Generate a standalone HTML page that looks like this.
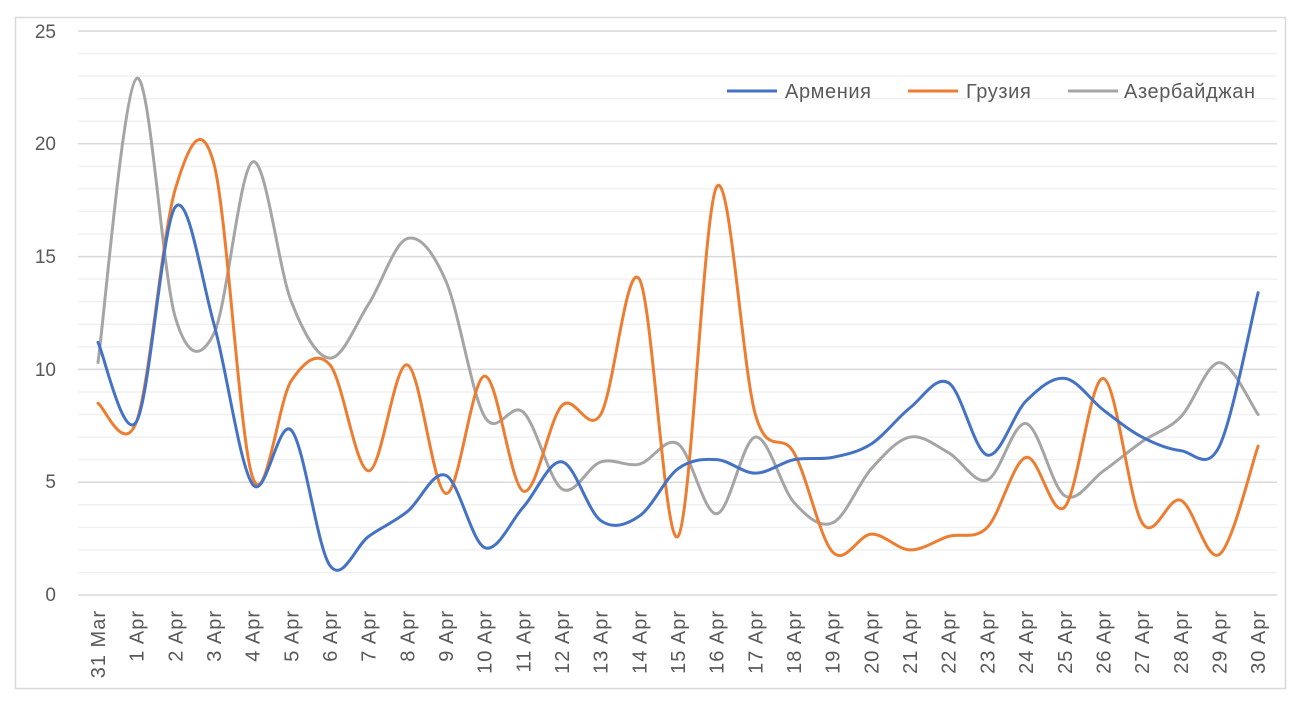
<!DOCTYPE html>
<html><head><meta charset="utf-8"><style>
body{margin:0;background:#fff;width:1298px;height:702px;overflow:hidden}
svg{display:block;font-family:"Liberation Sans","DejaVu Sans",sans-serif}
</style></head><body>
<svg id="s" width="1298" height="702" xmlns="http://www.w3.org/2000/svg">
<rect x="15.5" y="17.5" width="1270" height="671" fill="#fff" stroke="#d9d9d9" stroke-width="1.5"/>
<g id="grid"></g>
<g font-size="19" fill="#595959" text-anchor="end">
<text x="56" y="601">0</text><text x="56" y="488">5</text><text x="56" y="376">10</text>
<text x="56" y="263">15</text><text x="56" y="150">20</text><text x="56" y="38">25</text>
</g>
<g id="xl" font-size="20" fill="#595959" text-anchor="end" letter-spacing="1">
<text>31 Mar</text><text>1 Apr</text><text>2 Apr</text><text>3 Apr</text><text>4 Apr</text><text>5 Apr</text><text>6 Apr</text><text>7 Apr</text><text>8 Apr</text><text>9 Apr</text><text>10 Apr</text><text>11 Apr</text><text>12 Apr</text><text>13 Apr</text><text>14 Apr</text><text>15 Apr</text><text>16 Apr</text><text>17 Apr</text><text>18 Apr</text><text>19 Apr</text><text>20 Apr</text><text>21 Apr</text><text>22 Apr</text><text>23 Apr</text><text>24 Apr</text><text>25 Apr</text><text>26 Apr</text><text>27 Apr</text><text>28 Apr</text><text>29 Apr</text><text>30 Apr</text>
</g>
<g id="lines" fill="none" stroke-width="3" stroke-linecap="round" stroke-linejoin="round"></g>
<g font-size="20" fill="#595959" letter-spacing="0.6">
<line x1="727" y1="91" x2="777" y2="91" stroke="#4472c4" stroke-width="3"/><text x="785" y="98">Армения</text>
<line x1="908" y1="91" x2="958" y2="91" stroke="#ed7d31" stroke-width="3"/><text x="966" y="98">Грузия</text>
<line x1="1068" y1="91" x2="1118" y2="91" stroke="#a5a5a5" stroke-width="3"/><text x="1124" y="98">Азербайджан</text>
</g>
</svg>
<script>
var g=document.getElementById('grid'),h='';
for(var v=0;v<=25;v++){var y=595-v*22.56;h+='<line x1="78" x2="1277" y1="'+y+'" y2="'+y+'" stroke="'+(v%5?'#f0f0f0':'#d9d9d9')+'" stroke-width="1.5"/>';}
g.innerHTML=h;
var X=function(i){return 98+i*38.67},Y=function(v){return 595-v*22.56};
var t=document.getElementById('xl').children;
for(var i=0;i<t.length;i++){var x=X(i)+7;t[i].setAttribute('transform','translate('+x+',610) rotate(-90)');}
var D=[["#a5a5a5",[10.3,22.9,12.3,11.6,19.2,13.0,10.5,12.9,15.8,13.9,7.9,8.1,4.7,5.9,5.8,6.7,3.6,7.0,4.1,3.2,5.6,7.0,6.3,5.1,7.6,4.4,5.5,6.8,7.9,10.3,8.0]],
["#ed7d31",[8.5,7.7,18.0,19.1,5.2,9.5,10.2,5.5,10.2,4.5,9.7,4.6,8.4,8.0,14.0,2.6,18.1,8.0,6.3,1.9,2.7,2.0,2.6,3.0,6.1,3.9,9.6,3.2,4.2,1.8,6.6]],
["#4472c4",[11.2,7.7,17.2,12,4.9,7.3,1.3,2.6,3.7,5.3,2.1,3.9,5.9,3.3,3.5,5.6,6.0,5.4,6.0,6.1,6.7,8.3,9.4,6.2,8.6,9.6,8.2,7.0,6.4,6.6,13.4]]];
var L=document.getElementById('lines'),out='';
D.forEach(function(s){var p=s[1].map(function(v,i){return [X(i),Y(v)]});var d='M'+p[0][0]+','+p[0][1];
for(var i=0;i<p.length-1;i++){var a=p[Math.max(i-1,0)],b=p[i],c=p[i+1],e=p[Math.min(i+2,p.length-1)];
d+='C'+(b[0]+(c[0]-a[0])/6)+','+(b[1]+(c[1]-a[1])/6)+' '+(c[0]-(e[0]-b[0])/6)+','+(c[1]-(e[1]-b[1])/6)+' '+c[0]+','+c[1];}
out+='<path d="'+d+'" stroke="'+s[0]+'"/>';});
L.innerHTML=out;
</script>
</body></html>
